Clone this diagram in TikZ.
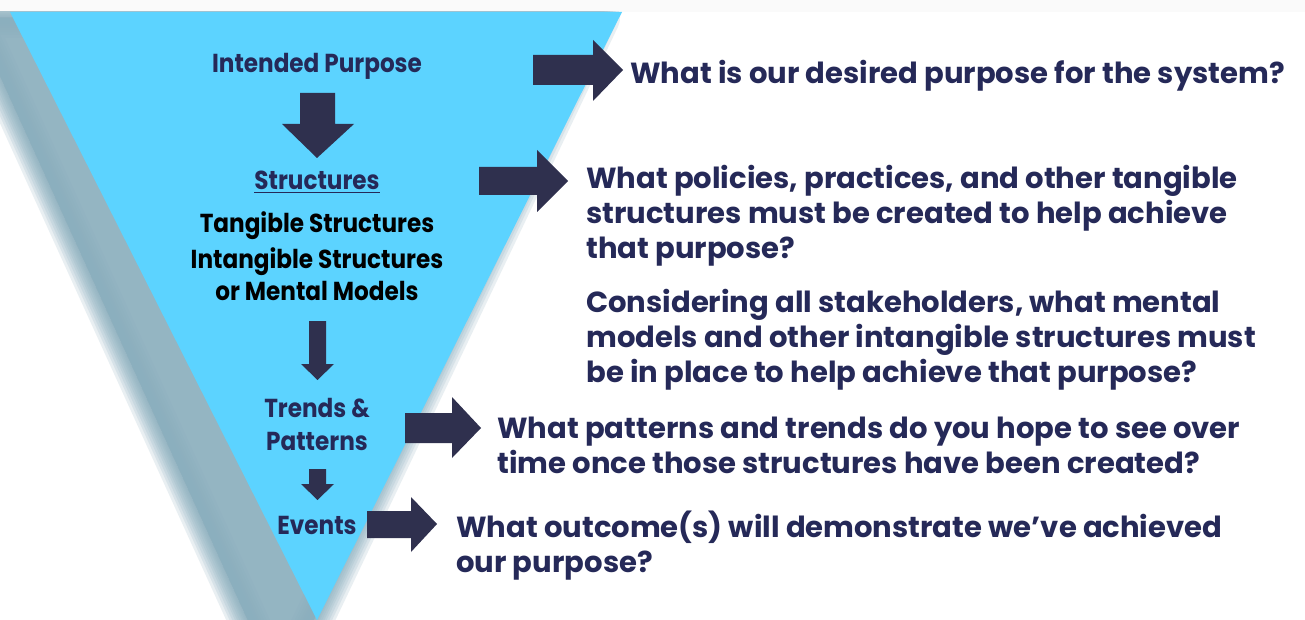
\documentclass[tikz,border=0pt]{standalone}
\usepackage{fontspec}
\setmainfont{Poppins}
\newfontfamily\twfont[FakeStretch=0.89]{Poppins}
\definecolor{trifill}{RGB}{92,211,255}
\definecolor{shadowc}{RGB}{139,175,190}
\definecolor{arrowc}{RGB}{47,48,78}
\definecolor{navytext}{RGB}{37,41,88}
\tikzset{
  blk/.style={fill=arrowc},
  righttext/.style={text=navytext, inner sep=0pt, align=left,
    font={\fontsize{21.8}{26.25}\selectfont\bfseries}},
  tritext/.style={text=navytext, inner sep=0pt,
    font={\twfont\fontsize{19.5}{23}\selectfont\bfseries}},
  triblack/.style={text=black, inner sep=0pt,
    font={\twfont\fontsize{19.5}{23}\selectfont\bfseries}},
}
\begin{document}
\begin{tikzpicture}[x=0.75pt,y=-0.75pt]
\useasboundingbox (0,0) rectangle (1305,620);
\fill[white] (0,0) rectangle (1305,620);
\fill[black!2] (0,0) rectangle (1305,12);
% blurred shadow
\begin{scope}
\clip (-10,12) rectangle (700,640);
\foreach \w in {40,34,29,24,20,16,12,9,6,3,1}{
  \filldraw[shadowc, opacity=0.19, line join=round, line width=\w*0.75pt]
    (-26,18) -- (600,18) -- (280,690) -- cycle;
}
\end{scope}
% triangle
\fill[trifill] (10,12) -- (622,12) -- (317,620) -- cycle;
% down arrows
\fill[blk] (300,93) -- (335,93) -- (335,124) -- (354,124) -- (317,158) -- (282,124) -- (300,124) -- cycle;
\fill[blk] (309,321) -- (326,321) -- (326,364) -- (334,364) -- (317.5,380) -- (301,364) -- (309,364) -- cycle;
\fill[blk] (309,469) -- (326,469) -- (326,484) -- (334,484) -- (317.5,500) -- (301,484) -- (309,484) -- cycle;
% right arrows
\fill[blk] (533,55) -- (593,55) -- (593,40) -- (623,70) -- (593,101) -- (593,85) -- (533,85) -- cycle;
\fill[blk] (479,167) -- (537,167) -- (537,150) -- (568,181) -- (537,212) -- (537,195) -- (479,195) -- cycle;
\fill[blk] (405,413) -- (452,413) -- (452,397) -- (481,428) -- (452,458) -- (452,443) -- (405,443) -- cycle;
\fill[blk] (367,511) -- (411,511) -- (411,497) -- (437,524) -- (411,552) -- (411,538) -- (367,538) -- cycle;
% triangle texts
\node[tritext, anchor=base] (ip) at (317,73) {Intended Purpose};
\node[tritext, anchor=base] (st) at (317,190) {\underline{Structures}};
\node[triblack, anchor=base] (ts) at (317,233) {Tangible Structures};
\node[triblack, anchor=base] (is) at (317,268) {Intangible Structures};
\node[triblack, anchor=base] (mm) at (317,300) {or Mental Models};
\node[tritext, anchor=base] (tr) at (317,417) {Trends \&};
\node[tritext, anchor=base] (pa) at (317,450) {Patterns};
\node[tritext, anchor=base] (ev) at (317,534) {Events};
% right texts (base anchor = baseline of last line)
\node[righttext, anchor=base west] (q1) at (630,84) {What is our desired purpose for the system?};
\node[righttext, anchor=base west] (q2) at (586,258) {What policies, practices, and other tangible\\structures must be created to help achieve\\that purpose?};
\node[righttext, anchor=base west] (q3) at (586,382) {Considering all stakeholders, what mental\\models and other intangible structures must\\be in place to help achieve that purpose?};
\node[righttext, anchor=base west] (q4) at (497,473) {What patterns and trends do you hope to see over\\time once those structures have been created?};
\node[righttext, anchor=base west] (q5) at (456,572) {What outcome(s) will demonstrate we’ve achieved\\our purpose?};
\end{tikzpicture}
\end{document}
